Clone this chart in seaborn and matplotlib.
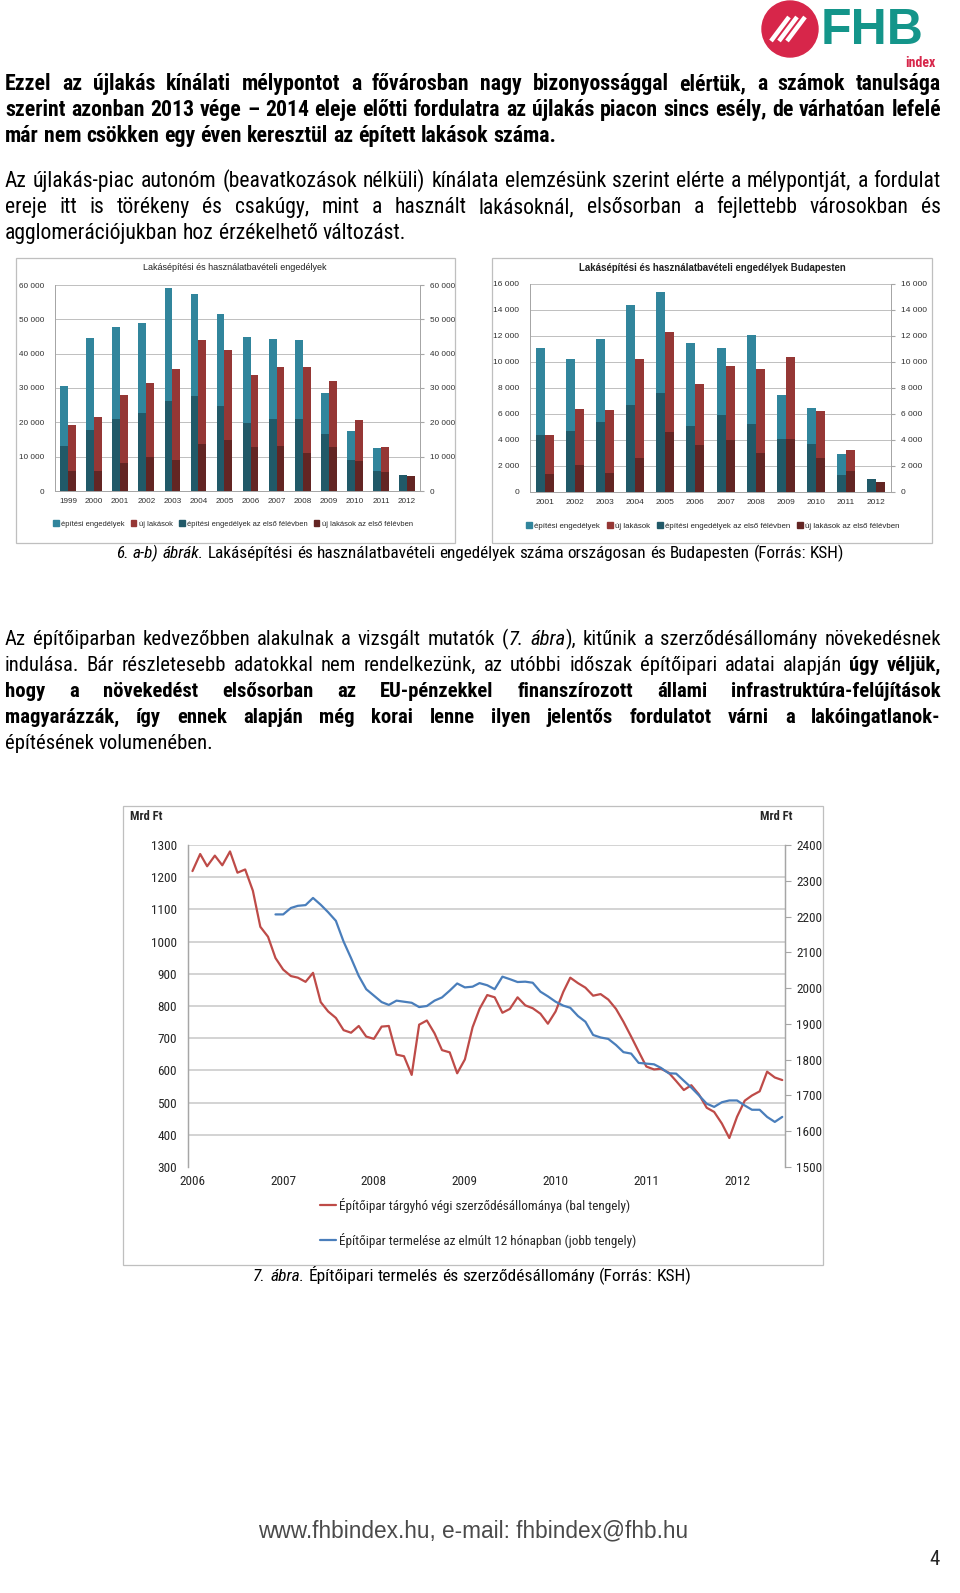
import numpy as np
import pandas as pd
import matplotlib
matplotlib.use('Agg')
import matplotlib.pyplot as plt
import matplotlib.patches as patches
import matplotlib.dates as mdates
from matplotlib.lines import Line2D
from matplotlib.ticker import FuncFormatter
from matplotlib import font_manager
import seaborn as sns

W, H = 960, 1593

# 6.a ábra - országos
years_a = [str(y) for y in range(1999, 2013)]
epitesi_a = [30700, 44600, 47900, 48800, 59100, 57500, 51500, 44800, 44300, 44000, 28500, 17400, 12500, np.nan]
uj_a = [19300, 21600, 28000, 31500, 35500, 43900, 41000, 33800, 36100, 36100, 32000, 20800, 12700, np.nan]
epitesi_a_h1 = [13200, 17800, 20900, 22600, 26300, 27800, 24800, 19900, 21100, 20900, 16500, 9100, 5800, 4800]
uj_a_h1 = [5800, 5700, 8200, 10000, 9000, 13600, 15000, 12900, 13200, 11100, 12900, 8700, 5400, 4500]

# 6.b ábra - Budapest
years_b = [str(y) for y in range(2001, 2013)]
epitesi_b = [11100, 10200, 11800, 14400, 15400, 11500, 11100, 12100, 7500, 6500, 2900, np.nan]
uj_b = [4400, 6400, 6300, 10200, 12300, 8300, 9700, 9500, 10400, 6200, 3200, np.nan]
epitesi_b_h1 = [4400, 4700, 5400, 6700, 7600, 5100, 5900, 5200, 4100, 3700, 1300, 1000]
uj_b_h1 = [1400, 2100, 1500, 2600, 4600, 3600, 4000, 3000, 4100, 2600, 1600, 800]

# 7. ábra - havi adatok (Mrd Ft)
szerzodes = [1219, 1272, 1234, 1267, 1237, 1280, 1214, 1224, 1158, 1046, 1015, 949,
             913, 893, 888, 875, 903, 812, 783, 763, 725, 717, 738, 705,
             698, 736, 738, 649, 644, 586, 742, 755, 715, 663, 656, 591,
             634, 734, 791, 834, 827, 779, 791, 827, 802, 793, 776, 745,
             783, 844, 888, 871, 857, 832, 837, 820, 791, 751, 705, 659,
             612, 603, 605, 593, 567, 539, 554, 525, 484, 471, 435, 390,
             456, 506, 522, 535, 596, 578, 570]
termeles = [2206,
            2206, 2224, 2230, 2232, 2252, 2233, 2212, 2188, 2130, 2084, 2034, 1997,
            1979, 1961, 1953, 1965, 1962, 1959, 1947, 1950, 1965, 1974, 1993, 2013,
            2002, 2004, 2014, 2008, 1997, 2032, 2025, 2017, 2018, 2015, 1990, 1977,
            1962, 1951, 1945, 1922, 1906, 1869, 1862, 1858, 1841, 1821, 1817, 1791,
            1789, 1787, 1777, 1762, 1761, 1741, 1722, 1700, 1677, 1668, 1681, 1686,
            1686, 1672, 1660, 1660, 1640, 1626, 1640]
szerzodes_start = '2006-01-01'
termeles_start = '2006-12-01'

LAB = ['építési engedélyek', 'új lakások',
       'építési engedélyek az első félévben', 'új lakások az első félévben']
COL = ['#31859C', '#953735', '#215968', '#632523']

p1 = ["Ezzel az újlakás kínálati mélypontot a fővárosban nagy bizonyossággal elértük, a számok tanulsága",
      "szerint azonban 2013 vége – 2014 eleje előtti fordulatra az újlakás piacon sincs esély, de várhatóan lefelé",
      "már nem csökken egy éven keresztül az épített lakások száma."]
p2 = ["Az újlakás-piac autonóm (beavatkozások nélküli) kínálata elemzésünk szerint elérte a mélypontját, a fordulat",
      "ereje itt is törékeny és csakúgy, mint a használt lakásoknál, elsősorban a fejlettebb városokban és",
      "agglomerációjukban hoz érzékelhető változást."]
p3 = ["Az építőiparban kedvezőbben alakulnak a vizsgált mutatók (_7. ábra_), kitűnik a szerződésállomány növekedésnek",
      "indulása. Bár részletesebb adatokkal nem rendelkezünk, az utóbbi időszak építőipari adatai alapján *úgy véljük,*",
      "*hogy a növekedést elsősorban az EU-pénzekkel finanszírozott állami infrastruktúra-felújítások*",
      "*magyarázzák, így ennek alapján még korai lenne ilyen jelentős fordulatot várni a lakóingatlanok-*",
      "építésének volumenében."]
cap6 = "_6. a-b) ábrák._ Lakásépítési és használatbavételi engedélyek száma országosan és Budapesten (Forrás: KSH)"
cap7 = "_7. ábra._ Építőipari termelés és szerződésállomány (Forrás: KSH)"

sns.set_style('white')
names = {f.name for f in font_manager.fontManager.ttflist}
NARROW = next((f for f in ['Liberation Sans Narrow', 'Arial Narrow', 'Roboto Condensed']
               if f in names), 'Liberation Sans')
BODY = [NARROW, 'DejaVu Sans']
plt.rcParams['font.family'] = ['Liberation Sans', 'DejaVu Sans']

fig = plt.figure(figsize=(W / 100, H / 100), dpi=100)
renderer = fig.canvas.get_renderer()


def fx(x):
    return x / W


def fy(y):
    return 1 - y / H


def box(x0, y0, x1, y1):
    return [x0 / W, 1 - y1 / H, (x1 - x0) / W, (y1 - y0) / H]


def frame(x0, y0, x1, y1):
    fig.add_artist(patches.Rectangle((x0 / W, 1 - y1 / H), (x1 - x0) / W, (y1 - y0) / H,
                                     transform=fig.transFigure, fill=False, ec='#BFBFBF', lw=0.9))


# --- szövegek szavanként (sorkizárt) ---
def parse(line):
    words, cur, piece = [], [], ''
    b = i = False
    for ch in line:
        if ch in '*_ ':
            if piece:
                cur.append((piece, b, i))
                piece = ''
            if ch == '*':
                b = not b
            elif ch == '_':
                i = not i
            elif cur:
                words.append(cur)
                cur = []
        else:
            piece += ch
    if piece:
        cur.append((piece, b, i))
    if cur:
        words.append(cur)
    return words


def tw(s, size, bold=False, ital=False, family=BODY):
    t = fig.text(0, 0, s, fontsize=size, family=family,
                 fontweight='bold' if bold else 'normal', fontstyle='italic' if ital else 'normal')
    w = t.get_window_extent(renderer).width
    t.remove()
    return w


def natural(line, size, ball=False, family=BODY):
    words = parse(line)
    tot = sum(tw(p, size, b or ball, i, family) for w in words for p, b, i in w)
    sp = tw('a a', size, ball, family=family) - tw('aa', size, ball, family=family)
    return tot + sp * (len(words) - 1)


def write_line(line, yb, x0, x1, size, align='justify', ball=False, color='black', family=BODY):
    words = parse(line)
    ws = [[tw(p, size, b or ball, i, family) for p, b, i in w] for w in words]
    tot = sum(sum(a) for a in ws)
    sp = tw('a a', size, ball, family=family) - tw('aa', size, ball, family=family)
    n = len(words)
    gap = (x1 - x0 - tot) / (n - 1) if (align == 'justify' and n > 1) else sp
    span = tot + gap * (n - 1)
    x = x0 if align != 'center' else (x0 + x1) / 2 - span / 2
    for w, wl in zip(words, ws):
        for (p, b, i), pw in zip(w, wl):
            fig.text(fx(x), fy(yb), p, fontsize=size, family=family, color=color,
                     fontweight='bold' if (b or ball) else 'normal',
                     fontstyle='italic' if i else 'normal', ha='left', va='baseline')
            x += pw
        x += gap


def fit_size(lines, ball=False, fill=926):
    return 10 * fill / max(natural(ln, 10, ball) for ln in lines[:-1])


def paragraph(lines, baselines, size, ball=False):
    for k, (ln, yb) in enumerate(zip(lines, baselines)):
        write_line(ln, yb, 5, 941, size, 'justify' if k < len(lines) - 1 else 'left', ball=ball)


paragraph(p1, [90, 116, 142], fit_size(p1, ball=True), ball=True)
paragraph(p2, [187, 213, 239], fit_size(p2, fill=918))
paragraph(p3, [645, 671, 697, 723, 749], fit_size(p3, fill=905))

s6 = 10 * 725 / natural(cap6, 10)
write_line(cap6, 558, 118, 843, s6, 'center')
s7 = 10 * 435 / natural(cap7, 10)
write_line(cap7, 1281, 255, 690, s7, 'center')

foot = 'www.fhbindex.hu, e-mail: fhbindex@fhb.hu'
sf = 10 * 430 / tw(foot, 10, family=['Liberation Sans'])
fig.text(fx(258), fy(1537), foot, fontsize=sf, family=['Liberation Sans'], color='#4a4a4a',
         ha='left', va='baseline')
fig.text(fx(940), fy(1565), '4', fontsize=15, family=BODY, ha='right', va='baseline')

# --- logó ---
fig.add_artist(patches.Ellipse((fx(790), fy(29)), 56 / W, 56 / H, transform=fig.transFigure,
                               color='#D7264A'))
for dx in (-8, 0, 8):
    fig.add_artist(Line2D([fx(779 + dx), fx(797 + dx)], [fy(41), fy(17)], transform=fig.transFigure,
                          color='white', lw=3.2, solid_capstyle='butt'))
fig.text(fx(821), fy(44), 'FHB', fontsize=36, fontweight='bold', color='#14958A',
         family=['Liberation Sans'], ha='left', va='baseline')
fig.text(fx(936), fy(67), 'index', fontsize=10, fontweight='bold', color='#D7264A',
         family=BODY, ha='right', va='baseline')

thousands = FuncFormatter(lambda v, _: f'{int(v):,}'.replace(',', ' '))


def bar_chart(rect, years, series, ymax, step, fs):
    ax = fig.add_axes(rect)
    n = len(years)
    full = pd.DataFrame({'ev': years * 2, 'sor': [LAB[0]] * n + [LAB[1]] * n,
                         'db': list(series[0]) + list(series[1])}).dropna()
    half = pd.DataFrame({'ev': years * 2, 'sor': [LAB[2]] * n + [LAB[3]] * n,
                         'db': list(series[2]) + list(series[3])}).dropna()
    for df, hues, cols in [(full, LAB[:2], COL[:2]), (half, LAB[2:], COL[2:])]:
        sns.barplot(data=df, x='ev', y='db', hue='sor', order=years, hue_order=hues,
                    palette=cols, width=0.6, saturation=1, errorbar=None, legend=False,
                    linewidth=0, ax=ax)
    ax.set_xlim(-0.5, n - 0.5)
    ax.set_ylim(0, ymax)
    ax.set_yticks(np.arange(0, ymax + 1, step))
    ax.yaxis.set_major_formatter(thousands)
    ax.set_xlabel('')
    ax.set_ylabel('')
    ax.yaxis.grid(True, color='#BFBFBF', lw=0.7)
    ax.set_axisbelow(True)
    ax.set_xticks(np.arange(-0.5, n), minor=True)
    ax.tick_params(axis='x', which='major', length=0, labelsize=fs, pad=5, labelcolor='#303030')
    ax.tick_params(axis='x', which='minor', length=3, color='#A6A6A6')
    ax.tick_params(axis='y', length=0, labelsize=fs, pad=8, labelcolor='#303030')
    ax2 = ax.twinx()
    ax2.set_ylim(0, ymax)
    ax2.set_yticks(np.arange(0, ymax + 1, step))
    ax2.yaxis.set_major_formatter(thousands)
    ax2.tick_params(axis='y', length=3, color='#A6A6A6', labelsize=fs, pad=4, labelcolor='#303030')
    for a in (ax, ax2):
        a.spines['top'].set_visible(False)
        for s in ('left', 'right', 'bottom'):
            a.spines[s].set_color('#A6A6A6')
            a.spines[s].set_linewidth(0.7)
    return ax


handles = [patches.Patch(color=c) for c in COL]

# 6.a
frame(16, 258, 455, 543)
bar_chart(box(55, 285, 420, 491), years_a, [epitesi_a, uj_a, epitesi_a_h1, uj_a_h1], 60000, 10000, 5.9)
fig.text(fx(235), fy(268), 'Lakásépítési és használatbavételi engedélyek', fontsize=6.5,
         ha='center', va='center', color='#202020')
fig.legend(handles, LAB, loc='center', bbox_to_anchor=(fx(233), fy(524)), ncol=4, frameon=False,
           fontsize=5.4, handlelength=0.7, handleheight=0.7, handletextpad=0.3, columnspacing=0.9)

# 6.b
frame(492, 258, 932, 543)
bar_chart(box(530, 284, 891, 492), years_b, [epitesi_b, uj_b, epitesi_b_h1, uj_b_h1], 16000, 2000, 6.0)
fig.text(fx(712), fy(268), 'Lakásépítési és használatbavételi engedélyek Budapesten', fontsize=6.9,
         fontweight='bold', ha='center', va='center', color='#202020')
fig.legend(handles, LAB, loc='center', bbox_to_anchor=(fx(713), fy(526)), ncol=4, frameon=False,
           fontsize=5.7, handlelength=0.7, handleheight=0.7, handletextpad=0.3, columnspacing=0.9)

# 7. ábra
frame(123, 806, 823, 1265)
ax3 = fig.add_axes(box(188, 845, 785, 1167))
honap_sz = pd.date_range(szerzodes_start, periods=len(szerzodes), freq='MS')
honap_t = pd.date_range(termeles_start, periods=len(termeles), freq='MS')
sns.lineplot(x=honap_sz, y=szerzodes, ax=ax3, color='#BE4B48', lw=1.6)
ax4 = ax3.twinx()
sns.lineplot(x=honap_t, y=termeles, ax=ax4, color='#4A7EBB', lw=1.6)
ax3.set_ylim(300, 1300)
ax4.set_ylim(1500, 2400)
ax3.set_xlim(pd.Timestamp('2005-12-14'), pd.Timestamp('2012-07-12'))
left_ticks = np.arange(300, 1301, 100)
ax3.set_yticks(left_ticks)
ax4.set_yticks(np.arange(1500, 2401, 100))
for v in left_ticks[1:]:
    ax3.axhline(v, color='#C8C8C8', lw=1.1, zorder=0)
ax3.xaxis.set_major_locator(mdates.YearLocator())
ax3.xaxis.set_major_formatter(mdates.DateFormatter('%Y'))
ax3.xaxis.set_minor_locator(mdates.MonthLocator())
ax3.tick_params(axis='x', which='both', direction='in', length=4, color='#A6A6A6',
                labelsize=9.5, pad=6)
ax3.tick_params(axis='y', length=0, labelsize=9.5, pad=8)
ax4.tick_params(axis='y', length=4, color='#A6A6A6', labelsize=9.5, pad=4)
for a in (ax3, ax4):
    a.set_xlabel('')
    a.set_ylabel('')
    a.spines['top'].set_visible(False)
    a.spines['bottom'].set_visible(False)
    for s in ('left', 'right'):
        a.spines[s].set_color('#A6A6A6')
        a.spines[s].set_linewidth(0.9)
    for lab in a.get_xticklabels() + a.get_yticklabels():
        lab.set_family(BODY)
fig.text(fx(130), fy(817), 'Mrd Ft', fontsize=9, fontweight='bold', family=BODY, va='center')
fig.text(fx(760), fy(817), 'Mrd Ft', fontsize=9, fontweight='bold', family=BODY, va='center')
leg_h = [Line2D([], [], color='#BE4B48', lw=1.6), Line2D([], [], color='#4A7EBB', lw=1.6)]
fig.legend(leg_h, ['Építőipar tárgyhó végi szerződésállománya (bal tengely)',
                   'Építőipar termelése az elmúlt 12 hónapban (jobb tengely)'],
           loc='center', bbox_to_anchor=(fx(478), fy(1223)), frameon=False,
           prop={'family': BODY, 'size': 9.5}, handlelength=1.2, handletextpad=0.2, labelspacing=1.5)

fig.savefig('out.png', dpi=100)
